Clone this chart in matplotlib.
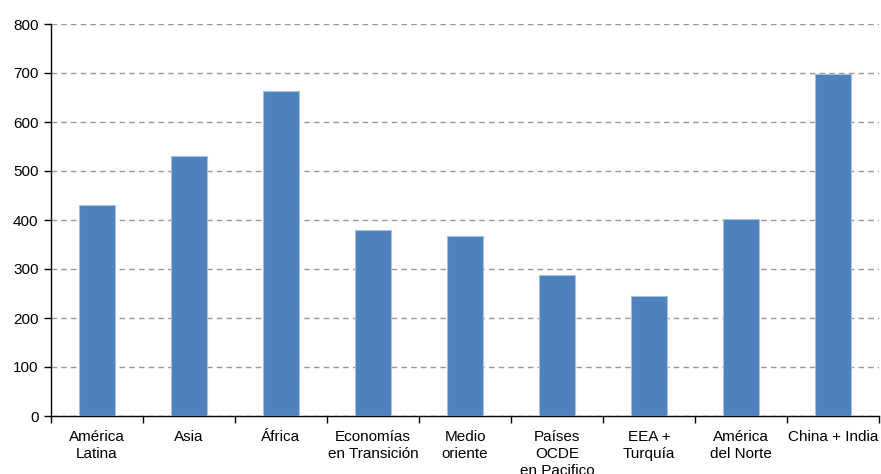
import matplotlib.pyplot as plt
from matplotlib.ticker import FixedLocator, MultipleLocator

plt.rcParams['font.family'] = ['Liberation Sans', 'DejaVu Sans']

regions = ["América\nLatina", "Asia", "África", "Economías\nen Transición",
           "Medio\noriente", "Países\nOCDE\nen Pacifico", "EEA +\nTurquía",
           "América\ndel Norte", "China + India"]
values = [430, 530, 663, 379, 367, 288, 245, 402, 697]

fig = plt.figure(figsize=(8.81, 4.74), dpi=100)
ax = fig.add_axes([51 / 881, 58 / 474, 828 / 881, 392 / 474])

x = list(range(len(regions)))
ax.bar(x, values, width=0.4, color="#4F81BD", edgecolor="#A7C0DE", linewidth=0.8, zorder=3)

ax.set_xlim(-0.5, len(regions) - 0.5)
ax.set_ylim(0, 800)
ax.yaxis.set_major_locator(MultipleLocator(100))
ax.grid(axis="y", color="#999999", linestyle=(0, (4, 3)), linewidth=1.0, zorder=0)

ax.set_xticks(x)
ax.set_xticklabels(regions, fontsize=11, linespacing=1.3)
ax.xaxis.set_minor_locator(FixedLocator([i - 0.5 for i in range(len(regions) + 1)]))
ax.tick_params(axis="x", which="major", length=0, pad=10)
ax.tick_params(axis="x", which="minor", length=5, width=1, color="black")
ax.tick_params(axis="y", length=5, width=1, labelsize=11, pad=4)

for side in ("top", "right"):
    ax.spines[side].set_visible(False)
for side in ("left", "bottom"):
    ax.spines[side].set_linewidth(1.0)

fig.savefig("out.png", dpi=100)
plt.close(fig)
